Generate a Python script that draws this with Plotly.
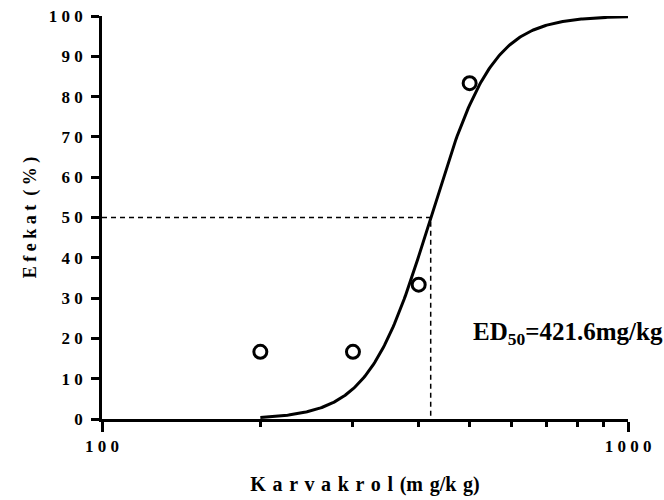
import numpy as np
import plotly.graph_objects as go

# Observed responses
dose = [200, 300, 400, 500]            # mg/kg
effect = [16.67, 16.67, 33.33, 83.33]  # %

# Fitted dose-response (Hill) parameters
ed50 = 421.6
hill_slope = 7.4
bottom, top = 0.0, 100.0
fit_start, fit_end = 200, 1000

x_ticks = [100, 1000]
x_minor = [200, 300, 400, 500, 600, 700, 800, 900]
y_ticks = [0, 10, 20, 30, 40, 50, 60, 70, 80, 90, 100]


def spaced(s, gap=" "):
    return gap.join(s)


fit_x = np.logspace(np.log10(fit_start), np.log10(fit_end), 300)
fit_y = bottom + (top - bottom) / (1 + 10 ** ((np.log10(ed50) - np.log10(fit_x)) * hill_slope))

FONT = "Liberation Serif"
WIDE = " \u200a"
x_title = (spaced("Karvakrol", WIDE) + WIDE + "(" + spaced("mg", WIDE)
           + "/" + spaced("kg", WIDE) + ")")
fig = go.Figure()

# ED50 guide lines
fig.add_trace(go.Scatter(
    x=[x_ticks[0], ed50, ed50], y=[50, 50, 0], mode="lines",
    line=dict(color="black", width=1.5, dash="5px,4px"),
    showlegend=False, hoverinfo="skip"))

# fitted curve
fig.add_trace(go.Scatter(
    x=fit_x, y=fit_y, mode="lines",
    line=dict(color="black", width=3),
    showlegend=False))

# data points
fig.add_trace(go.Scatter(
    x=dose, y=effect, mode="markers",
    marker=dict(symbol="circle-open", size=13, color="black",
                line=dict(color="black", width=3)),
    showlegend=False))

fig.add_annotation(
    x=0.886, y=0.213, xref="paper", yref="paper",
    xanchor="center", yanchor="middle",
    text="ED<sub>50</sub>=421.6mg/kg", showarrow=False,
    font=dict(family=FONT, size=25, color="black", weight="bold"))

fig.update_layout(
    width=664, height=500,
    margin=dict(l=102, r=36, t=16, b=81),
    plot_bgcolor="white", paper_bgcolor="white",
    font=dict(family=FONT, size=17, color="black", weight="bold"),
    xaxis=dict(
        type="log", range=[2, 3], automargin=False,
        tickvals=x_ticks, ticktext=[spaced(str(v)) for v in x_ticks],
        ticks="outside", ticklen=10, tickwidth=2.5, tickcolor="black",
        minor=dict(tickvals=x_minor, ticks="outside", ticklen=5,
                   tickwidth=2.5, tickcolor="black", showgrid=False),
        showline=True, linecolor="black", linewidth=2.5,
        showgrid=False, zeroline=False,
        title=dict(text=x_title,
                   font=dict(family=FONT, size=20, weight="bold"), standoff=22),
        tickfont=dict(family=FONT, size=17, weight="bold"),
    ),
    yaxis=dict(
        range=[0, 100], automargin=False,
        tickvals=y_ticks, ticktext=[spaced(str(v)) for v in y_ticks],
        ticks="outside", ticklen=8, tickwidth=2.5, tickcolor="black",
        ticklabelstandoff=5,
        showline=True, linecolor="black", linewidth=2.5,
        showgrid=False, zeroline=False,
        title=dict(text=spaced("Efekat") + "  " + "( % )",
                   font=dict(family=FONT, size=18, weight="bold"), standoff=8),
        tickfont=dict(family=FONT, size=17, weight="bold"),
    ),
)

fig.write_html("out.html")
